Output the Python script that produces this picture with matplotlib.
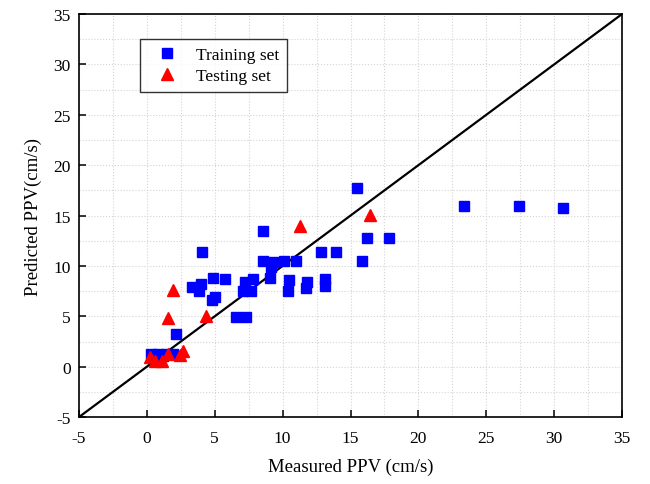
import numpy as np
import matplotlib.pyplot as plt
from matplotlib.ticker import MultipleLocator

# measured vs predicted PPV (cm/s)
train_measured = [15.45, 23.35, 27.4, 30.67, 8.52, 4.03, 12.8, 13.9, 16.18, 17.8,
                  15.84, 8.57, 9.26, 9.11, 10.1, 11.0, 3.29, 4.0, 3.83, 4.84,
                  5.75, 7.22, 7.81, 7.09, 7.66, 9.06, 10.46, 10.36, 11.76, 11.69,
                  13.1, 13.1, 5.0, 4.77, 6.56, 7.29, 2.11, 0.34, 0.83, 1.45,
                  1.94, 0.6, 1.2]
train_predicted = [17.73, 15.9, 15.9, 15.77, 13.5, 11.4, 11.4, 11.4, 12.8, 12.8,
                   10.45, 10.45, 10.35, 9.9, 10.45, 10.45, 7.87, 8.2, 7.53, 8.76,
                   8.66, 8.43, 8.66, 7.53, 7.53, 8.76, 8.63, 7.53, 8.43, 7.8,
                   8.7, 8.03, 6.88, 6.6, 4.95, 4.95, 3.24, 1.25, 1.25, 1.25,
                   1.25, 0.9, 1.1]

test_measured = [11.27, 16.43, 4.35, 1.89, 1.57, 2.67, 2.43, 0.22, 1.08, 1.57, 0.59]
test_predicted = [14.0, 15.08, 5.05, 7.63, 4.82, 1.52, 1.2, 0.92, 0.58, 1.25, 0.58]

plt.rcParams['font.family'] = ['Liberation Serif', 'DejaVu Serif']
plt.rcParams['axes.unicode_minus'] = False

fig = plt.figure(figsize=(6.5, 4.85), dpi=100)
ax = fig.add_axes([0.1215, 0.138, 0.8355, 0.831])

ax.plot([-5, 35], [-5, 35], color='black', lw=1.6, zorder=2)
ax.plot(train_measured, train_predicted, 's', color='#0000ff', ms=6.5,
        mec='#0000ff', label='Training set', zorder=3)
ax.plot(test_measured, test_predicted, '^', color='#ff0000', ms=8,
        mec='#ff0000', label='Testing set', zorder=4)

ax.set_xlim(-5, 35)
ax.set_ylim(-5, 35)
ax.xaxis.set_major_locator(MultipleLocator(5))
ax.yaxis.set_major_locator(MultipleLocator(5))
ax.xaxis.set_minor_locator(MultipleLocator(2.5))
ax.yaxis.set_minor_locator(MultipleLocator(2.5))
ax.tick_params(which='major', direction='in', length=5, width=1.1, labelsize=12.5)
ax.tick_params(axis='x', which='major', pad=9)
ax.tick_params(axis='y', which='major', pad=6)
ax.tick_params(which='minor', length=0)
ax.grid(True, which='both', color='#d4d4d4', linestyle=':', lw=0.8, zorder=0)
ax.set_axisbelow(True)
for s in ax.spines.values():
    s.set_linewidth(1.2)

ax.set_xlabel('Measured PPV (cm/s)', fontsize=13.5, labelpad=9)
ax.set_ylabel('Predicted PPV(cm/s)', fontsize=13.5, labelpad=8)

leg = ax.legend(loc='upper left', bbox_to_anchor=(0.112, 0.938), fontsize=12.5,
                frameon=True, fancybox=False, edgecolor='black',
                borderpad=0.45, handletextpad=0.6, handlelength=2.2,
                labelspacing=0.3, borderaxespad=0)
leg.get_frame().set_linewidth(1.0)

fig.savefig('out.png', dpi=100)
